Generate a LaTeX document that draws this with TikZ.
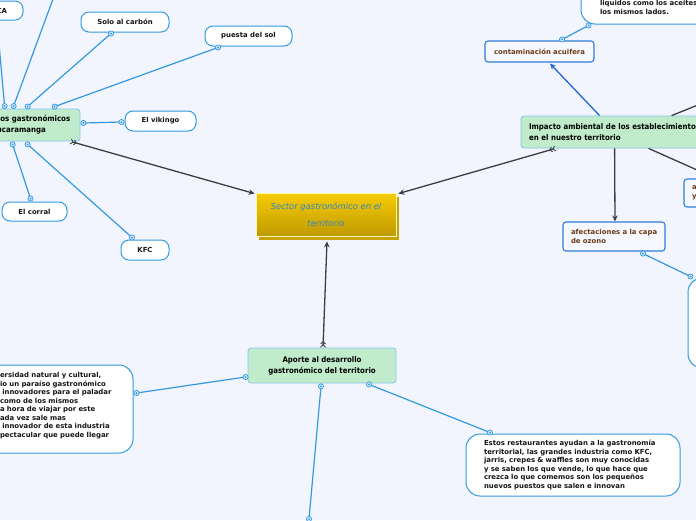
\documentclass[tikz,border=0pt]{standalone}
\usepackage{fontspec}
\setmainfont{DejaVu Sans}
\newfontfamily\condfont[FakeStretch=0.9]{DejaVu Sans}
\usetikzlibrary{arrows.meta}
\definecolor{bgcol}{HTML}{F2F5FE}
\definecolor{leafblue}{HTML}{3399E0}
\definecolor{mkfill}{HTML}{CFE8FA}
\definecolor{greenfill}{HTML}{C1ECCB}
\definecolor{greenborder}{HTML}{86C3EC}
\definecolor{brownborder}{HTML}{2F7CDB}
\definecolor{brownfill}{HTML}{F6F8FF}
\definecolor{browntext}{HTML}{6B3A13}
\definecolor{darkline}{HTML}{3A3F40}
\definecolor{arrowblue}{HTML}{1F66D6}
\definecolor{centertop}{HTML}{F7CC06}
\definecolor{centerbot}{HTML}{C09A02}
\definecolor{shadowgold}{HTML}{C9A100}
\definecolor{centertext}{HTML}{2E86CB}
\definecolor{leaftext}{HTML}{151515}
\newcommand\leaffnt{\fontsize{6.9}{8.5}\selectfont\bfseries}
\newcommand\brownfnt{\fontsize{6.9}{9}\selectfont\bfseries}
\newcommand\mainfnt{\condfont\bfseries\fontsize{7.8}{11}\selectfont}
\newcommand\ctrfnt{\itshape\fontsize{8.4}{17}\selectfont}
\newcommand\mk[1]{\draw[leafblue,fill=mkfill,line width=0.7pt] (#1) circle (2.6pt); \fill[leafblue] (#1) circle (1pt);}
\begin{document}
\begin{tikzpicture}[x=1pt,y=-1pt,
  leaf/.style={draw=leafblue,line width=1pt,fill=white,rounded corners=8pt,inner sep=0pt,font=\leaffnt,text=leaftext,align=center},
  para/.style={draw=leafblue,line width=1pt,fill=white,rounded corners=14pt,inner ysep=0pt,font=\leaffnt,text=leaftext,align=left},
  greenbox/.style={draw=greenborder,line width=0.8pt,fill=greenfill,rounded corners=3pt,inner ysep=0pt,font=\mainfnt,text=black},
  brownbox/.style={draw=brownborder,line width=1.1pt,fill=brownfill,rounded corners=3pt,inner ysep=0pt,font=\brownfnt,text=browntext,align=left},
  central/.style={draw=white!70!yellow,line width=0.8pt,top color=centertop,bottom color=centerbot,minimum width=140pt,minimum height=43pt,inner sep=0pt,align=center,font=\ctrfnt,text=centertext},
  shadowbox/.style={fill=shadowgold,minimum width=140pt,minimum height=43pt,inner sep=0pt},
  bline/.style={draw=leafblue,line width=1.2pt},
  dline/.style={draw=darkline,line width=1.3pt},
  fletch/.style={arrows={Straight Barb[reversed,length=2.2pt,width=5pt,line width=0.9pt]Straight Barb[reversed,length=2.2pt,width=5pt,line width=0.9pt]-Stealth[length=6pt,width=5.5pt]}},
  headonly/.style={-{Stealth[length=6pt,width=5.5pt]}}
]
\useasboundingbox (0,0) rectangle (696,520);
\clip (0,0) rectangle (696,520);
\fill[bgcol] (0,0) rectangle (696,520);

% central
\node[shadowbox] (centralsh) at (329,218.5) {};
\node[central] (central) at (326,214.5) {Sector gastronómico en el\\territorio};

% main green topics
\node[greenbox,text width=75pt,inner xsep=8pt,minimum height=32pt,align=left] (hub) at (34.5,125) {\mbox{tos gastronómicos}\\ucaramanga};
\node[greenbox,text width=223pt,inner xsep=8pt,minimum height=32pt,align=left] (impacto) at (640.5,132) {Impacto ambiental de los establecimientos\\en el nuestro territorio};
\node[greenbox,inner xsep=0pt,minimum width=148pt,minimum height=35pt,align=center] (aporte) at (322,365.5) {Aporte al desarrollo\\gastronómico del territorio};

% leaves of hub
\node[leaf,text width=31pt,inner xsep=16pt,minimum height=19pt,align=right] (ca) at (-8.5,10.5) {CA};
\node[leaf,minimum width=88pt,minimum height=20pt] (solo) at (125,22) {Solo al carbón};
\node[leaf,minimum width=87pt,minimum height=20pt] (puesta) at (248.5,36) {puesta del sol};
\node[leaf,minimum width=71pt,minimum height=20pt] (vikingo) at (160.5,121) {El vikingo};
\node[leaf,minimum width=65pt,minimum height=19pt] (corral) at (34.5,211.5) {El corral};
\node[leaf,minimum width=48pt,minimum height=20pt] (kfc) at (145,250) {KFC};

% impacto children
\node[brownbox,text width=91pt,inner xsep=9pt,minimum height=21pt] (contam) at (539.5,51.5) {\mbox{contaminación acuifera}};
\node[brownbox,text width=86pt,inner xsep=8pt,minimum height=29pt] (ozono) at (614,236.5) {\mbox{afectaciones a la capa}\\de ozono};
\node[brownbox,text width=60pt,inner xsep=8pt,minimum height=28pt] (ay) at (722,193) {a\\y};
\node[para,text width=161pt,inner xsep=19pt,minimum height=36pt] (tr) at (680.5,6) {\mbox{}\\\mbox{liquidos como los aceites}\\los mismos lados.};
\node[para,minimum width=72pt,minimum height=90pt] (rb) at (724,323) {};

% aporte children
\node[para,text width=116pt,inner xsep=17pt,minimum height=88pt] (lp) at (58,409) {\mbox{ersidad natural y cultural,}\\\mbox{io un paraíso gastronómico}\\\mbox{ innovadores para el paladar}\\\mbox{como de los mismos}\\\mbox{a hora de viajar por este}\\\mbox{ada vez sale mas}\\\mbox{ innovador de esta industria}\\\mbox{pectacular que puede llegar}\\\mbox{}};
\node[para,text width=178pt,inner xsep=18pt,minimum height=62pt] (rp) at (573,465) {\mbox{Estos restaurantes ayudan a la gastronomía}\\\mbox{territorial, las grandes industria como KFC,}\\\mbox{jarris, crepes \& waffles son muy conocidas}\\\mbox{y se saben los que vende, lo que hace que}\\\mbox{crezca lo que comemos son los pequeños}\\\mbox{nuevos puestos que salen e innovan}};

% connection points
\coordinate (h1) at ([xshift=16pt,yshift=2.5pt]hub.north west);
\coordinate (h2) at ([xshift=25pt,yshift=2.5pt]hub.north west);
\coordinate (h3) at ([xshift=39pt,yshift=2pt]hub.north west);
\coordinate (h4) at ([xshift=66pt,yshift=2pt]hub.north west);
\coordinate (h5) at ([xshift=3pt,yshift=2pt]hub.east);
\coordinate (h6) at ([xshift=24pt,yshift=-3pt]hub.south west);
\coordinate (h7) at ([xshift=39pt,yshift=-3pt]hub.south west);
\coordinate (cap) at ([xshift=5.5pt,yshift=-1pt]ca.south);
\coordinate (up1) at (60,-20);
\coordinate (sop) at ([xshift=-14pt,yshift=-1pt]solo.south);
\coordinate (pup) at ([xshift=-30.5pt,yshift=-1pt]puesta.south);
\coordinate (vip) at ([xshift=-3pt,yshift=-1pt]vikingo.west);
\coordinate (cop) at ([xshift=-4pt,yshift=3pt]corral.north);
\coordinate (kp) at ([xshift=-13pt,yshift=2pt]kfc.north);
\coordinate (ctp) at ([xshift=22.5pt,yshift=1pt]contam.north);
\coordinate (trp) at ([xshift=8pt,yshift=-1pt]tr.south west);
\coordinate (ozp) at ([xshift=29pt,yshift=-2pt]ozono.south);
\coordinate (rbp) at ([xshift=3pt,yshift=1pt]rb.north west);
\coordinate (a1) at ([xshift=-2pt,yshift=-11.5pt]aporte.west);
\coordinate (lpp) at ([xshift=3pt,yshift=16pt]lp.east);
\coordinate (a2) at ([xshift=47pt,yshift=-1pt]aporte.south);
\coordinate (rpp) at ([xshift=-83pt,yshift=1pt]rp.north);
\coordinate (a3) at ([xshift=-1pt,yshift=-3pt]aporte.south);
\coordinate (botend) at (309,519);
\coordinate (offtr) at (740,88);

% blue connectors
\draw[bline] (h1) -- (cap);
\draw[bline] (h2) -- (up1);
\draw[bline] (h3) -- (sop);
\draw[bline] (h4) -- (pup);
\draw[bline] (h5) -- (vip);
\draw[bline] (h6) -- (cop);
\draw[bline] (h7) -- (kp);
\draw[bline] (ctp) -- (trp);
\draw[bline] (ozp) -- (rbp);
\draw[bline] (a1) -- (lpp);
\draw[bline] (a2) -- (rpp);
\draw[bline] (a3) -- (botend);

% dark connectors
\draw[dline,fletch] ([xshift=-10pt]hub.south east) -- ([xshift=-1pt,yshift=-1pt]central.north west);
\draw[dline,fletch] ([xshift=35pt]impacto.south west) -- ([xshift=2pt,yshift=-1pt]central.north east);
\draw[dline,fletch] ([xshift=1pt]aporte.north) -- ([xshift=1pt,yshift=-5pt]central.south);
\draw[draw=arrowblue,line width=1.3pt,-{Stealth[length=6pt,width=5.5pt]}] ([xshift=79pt]impacto.north west) -- ([xshift=10.5pt,yshift=-1pt]contam.south);
\draw[dline,headonly] ([xshift=94pt]impacto.south west) -- ([xshift=1pt]ozono.north);
\draw[dline] ([xshift=151pt]impacto.north west) -- (offtr);
\draw[dline,headonly] ([xshift=128pt]impacto.south west) -- ([xshift=-6pt]ay.north);

% markers
\foreach \p in {h1,h2,h3,h4,h5,h6,h7,cap,sop,pup,vip,cop,kp,ctp,trp,ozp,rbp,a1,lpp,a2,rpp,a3,botend}{\mk{\p}}
\end{tikzpicture}
\end{document}
